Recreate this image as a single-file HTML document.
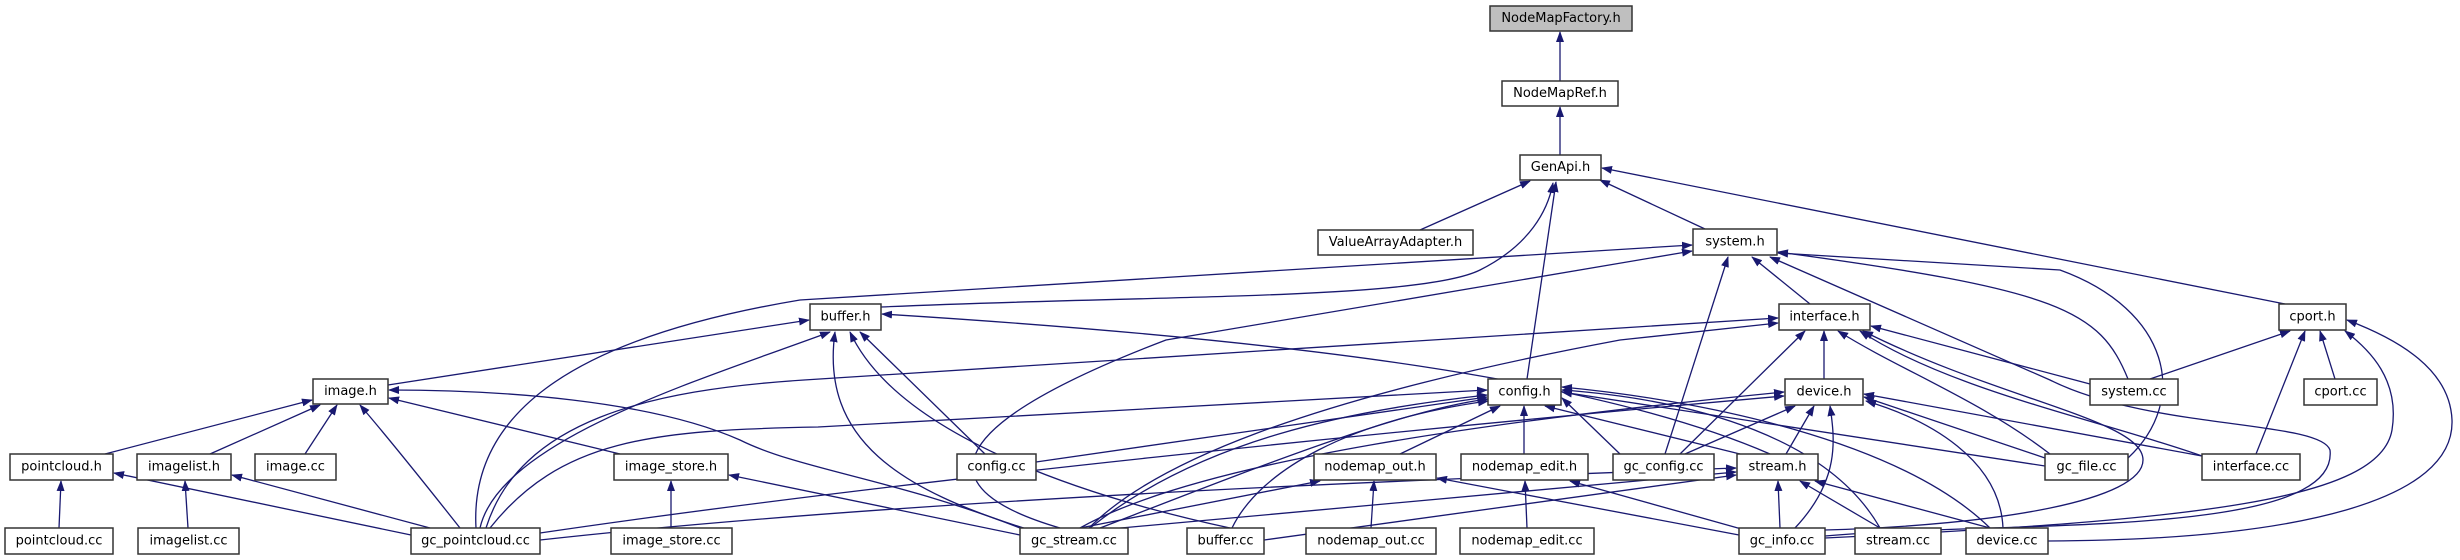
<!DOCTYPE html>
<html><head><meta charset="utf-8"><style>
html,body{margin:0;padding:0;background:#fff;}
svg{display:block}
text{font-family:"DejaVu Sans","Liberation Sans",sans-serif;font-size:13px;fill:#000;text-anchor:middle;dominant-baseline:central}
.e{fill:none;stroke:#191970;stroke-width:1.3;marker-end:url(#a)}
.n{fill:#fff;stroke:#333;stroke-width:1.5}
</style></head><body>
<svg width="2460" height="560" viewBox="0 0 2460 560" xmlns="http://www.w3.org/2000/svg">
<defs><marker id="a" markerUnits="userSpaceOnUse" markerWidth="11" markerHeight="8" refX="10" refY="4" orient="auto"><path d="M0,0 L11,4 L0,8 z" fill="#191970"/></marker></defs>
<g>
<path class="e" d="M1560,81 L1560,32"/>
<path class="e" d="M1560,155 L1560,107"/>
<path class="e" d="M1420,230 L1530,181"/>
<path class="e" d="M881,307 C1150,295 1420,300 1480,270 C1530,245 1548,210 1553,183"/>
<path class="e" d="M1527,379 L1556,182"/>
<path class="e" d="M1705,229 L1600,180"/>
<path class="e" d="M2285,304 L1602,168"/>
<path class="e" d="M476,528 C470,420 560,340 800,300 L1692,245"/>
<path class="e" d="M1060,528 C930,490 930,430 1166,340 L1692,251"/>
<path class="e" d="M1810,304 L1752,257"/>
<path class="e" d="M1665,454 L1728,257"/>
<path class="e" d="M2128,379 C2100,310 2060,290 1778,252"/>
<path class="e" d="M2128,458 C2190,400 2170,310 2060,270 L1778,253"/>
<path class="e" d="M1825,536 C2000,520 2340,540 2330,450 C2320,420 2150,430 2050,380 L1770,257"/>
<path class="e" d="M388,385 L809,320"/>
<path class="e" d="M480,528 C500,440 700,380 830,332"/>
<path class="e" d="M1030,530 C900,490 820,440 835,332"/>
<path class="e" d="M1230,528 C1100,500 900,440 850,332"/>
<path class="e" d="M985,454 L860,332"/>
<path class="e" d="M1770,454 C1600,380 1300,340 882,314"/>
<path class="e" d="M486,528 C520,420 650,390 804,380 L1778,318"/>
<path class="e" d="M1088,529 C1150,465 1300,400 1620,340 L1778,323"/>
<path class="e" d="M1824,379 L1824,331"/>
<path class="e" d="M1680,454 L1805,331"/>
<path class="e" d="M2050,454 C1980,400 1900,370 1838,331"/>
<path class="e" d="M2090,384 L1871,326"/>
<path class="e" d="M2202,456 C2100,420 1950,390 1860,331"/>
<path class="e" d="M1825,530 C2000,525 2143,500 2143,460 C2143,420 2000,400 1863,331"/>
<path class="e" d="M2150,379 L2290,331"/>
<path class="e" d="M2335,379 L2320,331"/>
<path class="e" d="M2256,454 L2305,331"/>
<path class="e" d="M1825,538 C2200,520 2380,500 2392,430 C2400,380 2370,350 2345,331"/>
<path class="e" d="M2048,541 C2300,540 2455,500 2452,420 C2450,370 2400,340 2347,320"/>
<path class="e" d="M1080,528 C1200,460 1500,420 1784,392"/>
<path class="e" d="M540,533 C900,480 1400,430 1784,396"/>
<path class="e" d="M1685,454 L1795,406"/>
<path class="e" d="M1786,454 L1814,406"/>
<path class="e" d="M1795,528 C1840,480 1835,440 1830,406"/>
<path class="e" d="M2045,458 L1864,397"/>
<path class="e" d="M2202,456 L1864,394"/>
<path class="e" d="M2003,528 C2000,460 1930,420 1866,401"/>
<path class="e" d="M540,540 C900,500 1400,480 1736,468"/>
<path class="e" d="M1110,529 L1736,472"/>
<path class="e" d="M1264,540 L1736,475"/>
<path class="e" d="M1780,528 L1778,481"/>
<path class="e" d="M1880,528 L1800,481"/>
<path class="e" d="M1990,528 L1815,481"/>
<path class="e" d="M490,528 C560,440 650,430 818,427 L1487,390"/>
<path class="e" d="M1090,528 C1200,440 1350,410 1487,395"/>
<path class="e" d="M1100,528 C1250,470 1400,410 1488,399"/>
<path class="e" d="M1036,462 L1487,397"/>
<path class="e" d="M1400,454 L1500,406"/>
<path class="e" d="M1524,454 L1524,406"/>
<path class="e" d="M1232,528 C1260,470 1350,420 1488,401"/>
<path class="e" d="M1620,454 L1562,398"/>
<path class="e" d="M2045,466 L1562,392"/>
<path class="e" d="M1880,528 C1830,440 1700,400 1562,390"/>
<path class="e" d="M1990,528 C1900,440 1700,400 1562,387"/>
<path class="e" d="M1740,454 L1545,406"/>
<path class="e" d="M105,454 L312,400"/>
<path class="e" d="M210,454 L320,405"/>
<path class="e" d="M305,454 L337,405"/>
<path class="e" d="M460,528 C430,490 390,440 360,405"/>
<path class="e" d="M620,454 L389,398"/>
<path class="e" d="M1025,530 C900,480 800,470 740,440 C650,400 500,390 389,390"/>
<path class="e" d="M59,528 L61,481"/>
<path class="e" d="M411,535 L114,473"/>
<path class="e" d="M188,528 L185,481"/>
<path class="e" d="M430,528 L232,475"/>
<path class="e" d="M671,528 L671,481"/>
<path class="e" d="M1020,535 L729,475"/>
<path class="e" d="M1371,528 L1374,481"/>
<path class="e" d="M1080,528 L1320,481"/>
<path class="e" d="M1739,535 L1437,478"/>
<path class="e" d="M1527,528 L1525,481"/>
<path class="e" d="M1745,530 L1570,481"/>
</g>
<g>
<rect x="1490" y="6" width="142" height="25" fill="#bfbfbf" stroke="#333" stroke-width="1.5"/><text x="1561" y="18.5">NodeMapFactory.h</text>
<rect class="n" x="1502" y="81" width="116" height="25"/><text x="1560" y="93.5">NodeMapRef.h</text>
<rect class="n" x="1520" y="155" width="81" height="25"/><text x="1560.5" y="167.5">GenApi.h</text>
<rect class="n" x="1318" y="230" width="155" height="25"/><text x="1395.5" y="242.5">ValueArrayAdapter.h</text>
<rect class="n" x="1693" y="229" width="84" height="26"/><text x="1735" y="242">system.h</text>
<rect class="n" x="810" y="304" width="71" height="26"/><text x="845.5" y="317">buffer.h</text>
<rect class="n" x="1779" y="304" width="91" height="26"/><text x="1824.5" y="317">interface.h</text>
<rect class="n" x="2279" y="304" width="67" height="26"/><text x="2312.5" y="317">cport.h</text>
<rect class="n" x="313" y="379" width="75" height="25"/><text x="350.5" y="391.5">image.h</text>
<rect class="n" x="1488" y="379" width="73" height="26"/><text x="1524.5" y="392">config.h</text>
<rect class="n" x="1785" y="379" width="78" height="26"/><text x="1824" y="392">device.h</text>
<rect class="n" x="2090" y="379" width="88" height="26"/><text x="2134" y="392">system.cc</text>
<rect class="n" x="2304" y="379" width="73" height="26"/><text x="2340.5" y="392">cport.cc</text>
<rect class="n" x="10" y="454" width="103" height="26"/><text x="61.5" y="467">pointcloud.h</text>
<rect class="n" x="137" y="454" width="94" height="26"/><text x="184" y="467">imagelist.h</text>
<rect class="n" x="255" y="454" width="81" height="26"/><text x="295.5" y="467">image.cc</text>
<rect class="n" x="614" y="454" width="114" height="26"/><text x="671" y="467">image_store.h</text>
<rect class="n" x="957" y="454" width="79" height="26"/><text x="996.5" y="467">config.cc</text>
<rect class="n" x="1314" y="454" width="122" height="26"/><text x="1375" y="467">nodemap_out.h</text>
<rect class="n" x="1461" y="454" width="127" height="26"/><text x="1524.5" y="467">nodemap_edit.h</text>
<rect class="n" x="1613" y="454" width="101" height="26"/><text x="1663.5" y="467">gc_config.cc</text>
<rect class="n" x="1737" y="454" width="81" height="26"/><text x="1777.5" y="467">stream.h</text>
<rect class="n" x="2045" y="454" width="83" height="26"/><text x="2086.5" y="467">gc_file.cc</text>
<rect class="n" x="2202" y="454" width="98" height="26"/><text x="2251" y="467">interface.cc</text>
<rect class="n" x="5" y="528" width="108" height="26"/><text x="59" y="541">pointcloud.cc</text>
<rect class="n" x="138" y="528" width="101" height="26"/><text x="188.5" y="541">imagelist.cc</text>
<rect class="n" x="411" y="528" width="129" height="26"/><text x="475.5" y="541">gc_pointcloud.cc</text>
<rect class="n" x="611" y="528" width="121" height="26"/><text x="671.5" y="541">image_store.cc</text>
<rect class="n" x="1020" y="528" width="108" height="26"/><text x="1074" y="541">gc_stream.cc</text>
<rect class="n" x="1187" y="528" width="77" height="26"/><text x="1225.5" y="541">buffer.cc</text>
<rect class="n" x="1306" y="528" width="130" height="26"/><text x="1371" y="541">nodemap_out.cc</text>
<rect class="n" x="1460" y="528" width="134" height="26"/><text x="1527" y="541">nodemap_edit.cc</text>
<rect class="n" x="1739" y="528" width="86" height="26"/><text x="1782" y="541">gc_info.cc</text>
<rect class="n" x="1855" y="528" width="86" height="26"/><text x="1898" y="541">stream.cc</text>
<rect class="n" x="1966" y="528" width="82" height="26"/><text x="2007" y="541">device.cc</text>
</g>
</svg>
</body></html>
